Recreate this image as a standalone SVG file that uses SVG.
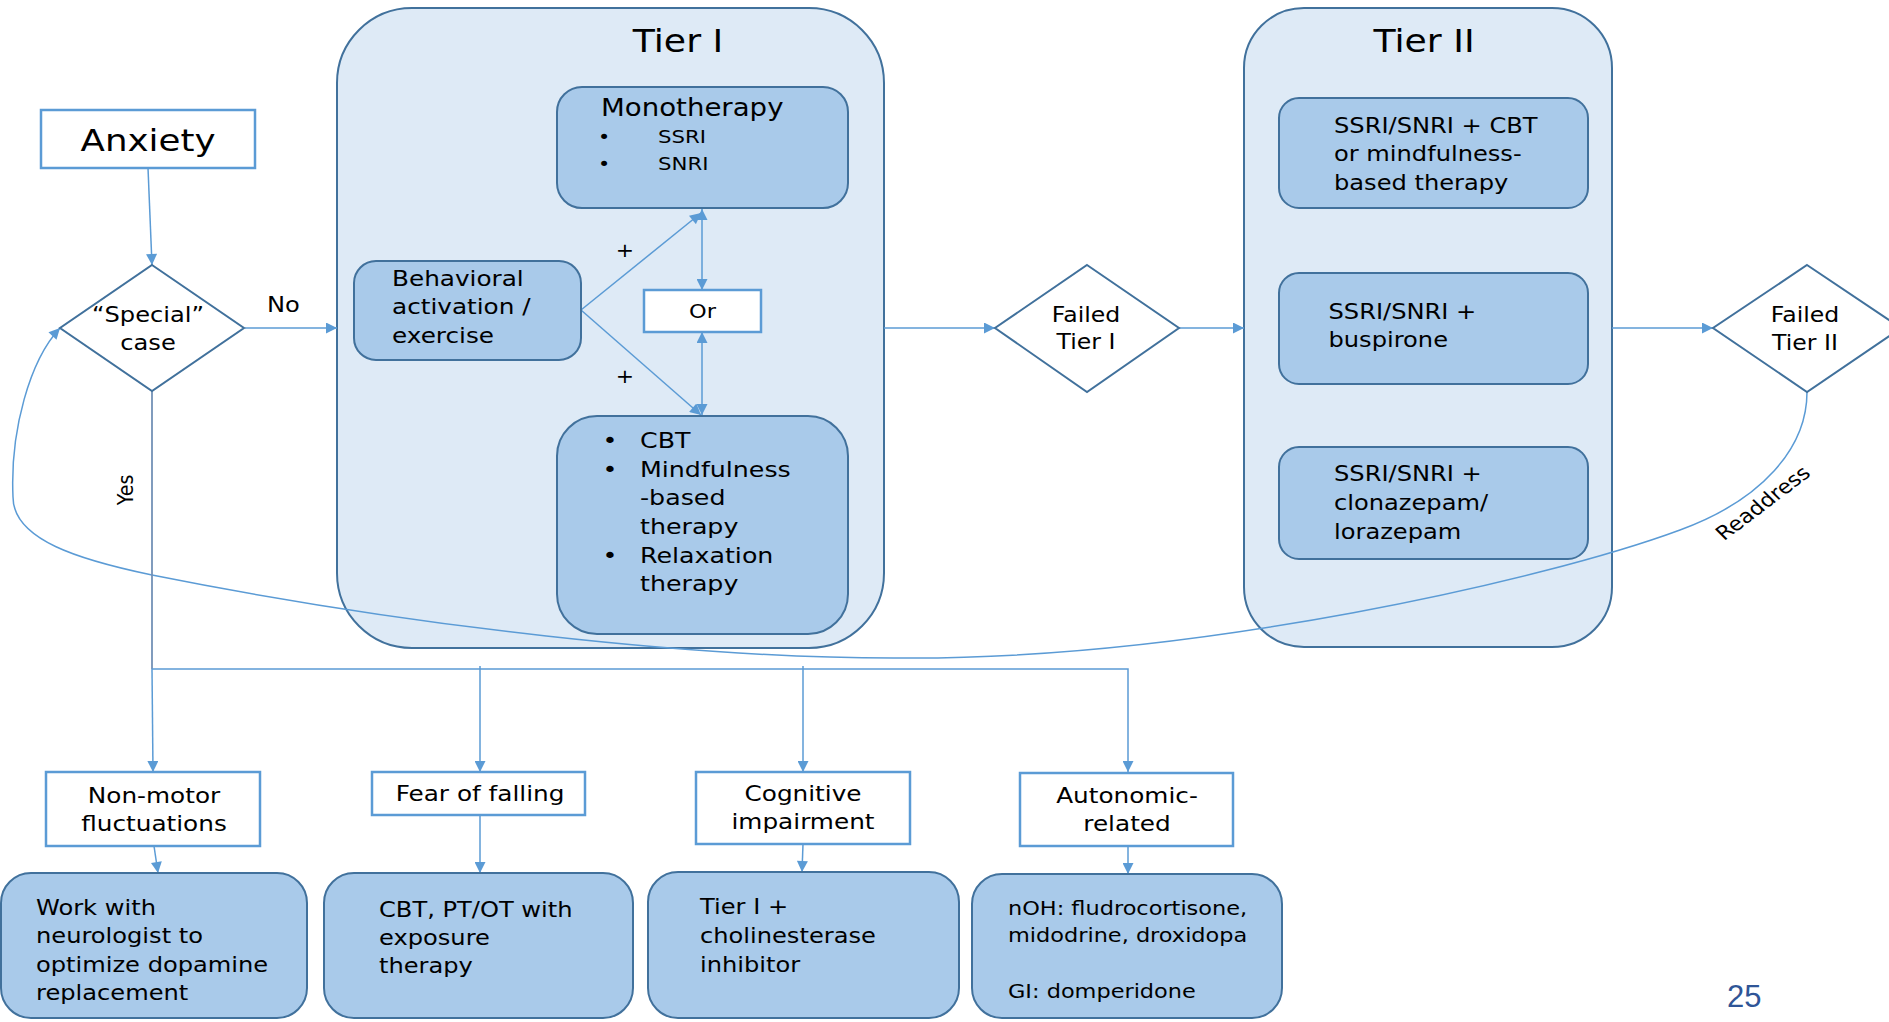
<svg xmlns="http://www.w3.org/2000/svg" width="1889" height="1022" viewBox="0 0 1889 1022">
<defs>
<style>
.t{font-family:"DejaVu Sans",Verdana,sans-serif;fill:#000}
.tier{fill:#DEEAF6;stroke:#41719C;stroke-width:2}
.box{fill:#A9CAEA;stroke:#41719C;stroke-width:2}
.wbox{fill:#fff;stroke:#5B9BD5;stroke-width:2.5}
.dia{fill:#fff;stroke:#41719C;stroke-width:2}
.ln{stroke:#5B9BD5;stroke-width:1.5;fill:none}
.yes{stroke:#7391B6;stroke-width:1.8;fill:none}
.m{text-anchor:middle}
</style>
<marker id="ah" viewBox="0 0 10 10" refX="10" refY="5" markerWidth="13" markerHeight="11" markerUnits="userSpaceOnUse" orient="auto-start-reverse"><path d="M0,0 L10,5 L0,10z" fill="#5B9BD5"/></marker>
</defs>
<rect width="1889" height="1022" fill="#fff"/>

<g id="tier1">
<rect class="tier" x="337" y="8" width="547" height="640" rx="75"/>
<text class="t m" font-size="31.5" transform="translate(678,52) scale(1.15,1)">Tier I</text>
</g>
<g id="tier2">
<rect class="tier" x="1244" y="8" width="368" height="639" rx="60"/>
<text class="t m" font-size="31.5" transform="translate(1424,52) scale(1.15,1)">Tier II</text>
</g>

<g id="connectors">
<line class="ln" x1="148" y1="168" x2="152" y2="265" marker-end="url(#ah)"/>
<line class="ln" x1="245" y1="328" x2="337" y2="328" marker-end="url(#ah)"/>
<line class="ln" x1="884" y1="328" x2="995" y2="328" marker-end="url(#ah)"/>
<line class="ln" x1="1179" y1="328" x2="1244" y2="328" marker-end="url(#ah)"/>
<line class="ln" x1="1612" y1="328" x2="1713" y2="328" marker-end="url(#ah)"/>
<line class="ln" x1="581" y1="310" x2="701" y2="213" marker-end="url(#ah)"/>
<line class="ln" x1="581" y1="310" x2="701" y2="415" marker-end="url(#ah)"/>
<line class="ln" x1="702" y1="209" x2="702" y2="290" marker-start="url(#ah)" marker-end="url(#ah)"/>
<line class="ln" x1="702" y1="332" x2="702" y2="415" marker-start="url(#ah)" marker-end="url(#ah)"/>
<path class="ln" d="M1807,392 C1807,448 1762,500 1680,530 C1545,580 1200,658 912,658 C700,660 402,625 152,575 C80,560 13,540 13,497 C10,430 30,360 60,328" marker-end="url(#ah)"/>
<line class="yes" x1="152" y1="391" x2="152" y2="669"/>
<line class="ln" x1="152" y1="669" x2="153" y2="772" marker-end="url(#ah)"/>
<polyline class="ln" points="152,669 1128,669 1128,772" marker-end="url(#ah)"/>
<line class="ln" x1="480" y1="666" x2="480" y2="772" marker-end="url(#ah)"/>
<line class="ln" x1="803" y1="666" x2="803" y2="772" marker-end="url(#ah)"/>
<line class="ln" x1="154" y1="846" x2="158" y2="873" marker-end="url(#ah)"/>
<line class="ln" x1="480" y1="815" x2="480" y2="873" marker-end="url(#ah)"/>
<line class="ln" x1="803" y1="844" x2="802" y2="872" marker-end="url(#ah)"/>
<line class="ln" x1="1128" y1="846" x2="1128" y2="874" marker-end="url(#ah)"/>
<text class="t" font-size="21" transform="translate(267,312) scale(1.15,1)">No</text>
<text class="t m" font-size="19" transform="translate(133,490) scale(1.15,1) rotate(-90)">Yes</text>
<text class="t m" font-size="19.5" transform="translate(1768,508) scale(1.15,1) rotate(-41)">Readdress</text>
<text class="t m" font-size="19" transform="translate(625,257) scale(1.15,1)">+</text>
<text class="t m" font-size="19" transform="translate(625,383) scale(1.15,1)">+</text>
</g>

<g id="anxiety">
<rect class="wbox" x="41" y="110" width="214" height="58"/>
<text class="t m" font-size="31" transform="translate(148,151) scale(1.15,1)">Anxiety</text>
</g>
<g id="special">
<polygon class="dia" points="152,265 244,328 152,391 60,328"/>
<text class="t m" font-size="21" transform="translate(148,322) scale(1.15,1)">“Special”<tspan x="0" y="28">case</tspan></text>
</g>
<g id="mono">
<rect class="box" x="557" y="87" width="291" height="121" rx="25"/>
<text class="t" font-size="24" transform="translate(601,116) scale(1.15,1)">Monotherapy</text>
<text class="t m" font-size="18" transform="translate(604,143) scale(1.15,1)">•<tspan x="0" y="27.5">•</tspan></text>
<text class="t" font-size="18.5" transform="translate(658,143) scale(1.15,1)">SSRI<tspan x="0" y="27.5">SNRI</tspan></text>
</g>
<g id="behavioral">
<rect class="box" x="354" y="261" width="227" height="99" rx="22"/>
<text class="t" font-size="21.5" transform="translate(392,286) scale(1.15,1)">Behavioral<tspan x="0" y="28.3">activation /</tspan><tspan x="0" y="56.7">exercise</tspan></text>
</g>
<g id="or">
<rect class="wbox" x="644" y="290" width="117" height="42"/>
<text class="t m" font-size="19.5" transform="translate(702.5,318) scale(1.15,1)">Or</text>
</g>
<g id="cbt">
<rect class="box" x="557" y="416" width="291" height="218" rx="40"/>
<text class="t m" font-size="22" transform="translate(610,448) scale(1.15,1)">•<tspan x="0" y="29">•</tspan><tspan x="0" y="115">•</tspan></text>
<text class="t" font-size="22" transform="translate(640,448) scale(1.15,1)">CBT<tspan x="0" y="29">Mindfulness</tspan><tspan x="0" y="57.5">-based</tspan><tspan x="0" y="86.5">therapy</tspan><tspan x="0" y="115">Relaxation</tspan><tspan x="0" y="143.5">therapy</tspan></text>
</g>
<g id="failed1">
<polygon class="dia" points="1087,265 1179,328 1087,392 995,328"/>
<text class="t m" font-size="20.5" transform="translate(1086,322) scale(1.15,1)">Failed<tspan x="0" y="27.5">Tier I</tspan></text>
</g>
<g id="t2a">
<rect class="box" x="1279" y="98" width="309" height="110" rx="20"/>
<text class="t" font-size="21" transform="translate(1334,132.6) scale(1.15,1)">SSRI/SNRI + CBT<tspan x="0" y="28.5">or mindfulness-</tspan><tspan x="0" y="57">based therapy</tspan></text>
</g>
<g id="t2b">
<rect class="box" x="1279" y="273" width="309" height="111" rx="20"/>
<text class="t" font-size="21" transform="translate(1328.5,318.6) scale(1.15,1)">SSRI/SNRI +<tspan x="0" y="28.5">buspirone</tspan></text>
</g>
<g id="t2c">
<rect class="box" x="1279" y="447" width="309" height="112" rx="20"/>
<text class="t" font-size="21" transform="translate(1334,481) scale(1.15,1)">SSRI/SNRI +<tspan x="0" y="29">clonazepam/</tspan><tspan x="0" y="57.7">lorazepam</tspan></text>
</g>
<g id="failed2">
<polygon class="dia" points="1807,265 1901,328 1807,392 1713,328"/>
<text class="t m" font-size="20.5" transform="translate(1805,322) scale(1.15,1)">Failed<tspan x="0" y="28">Tier II</tspan></text>
</g>

<g id="nonmotor">
<rect class="wbox" x="46" y="772" width="214" height="74"/>
<text class="t m" font-size="21.5" transform="translate(154,802.7) scale(1.15,1)">Non-motor<tspan x="0" y="28">fluctuations</tspan></text>
</g>
<g id="fear">
<rect class="wbox" x="372" y="772" width="213" height="43"/>
<text class="t m" font-size="21.5" transform="translate(480,801) scale(1.15,1)">Fear of falling</text>
</g>
<g id="cognitive">
<rect class="wbox" x="696" y="772" width="214" height="72"/>
<text class="t m" font-size="21.5" transform="translate(803,800.7) scale(1.15,1)">Cognitive<tspan x="0" y="28.6">impairment</tspan></text>
</g>
<g id="autonomic">
<rect class="wbox" x="1020" y="773" width="213" height="73"/>
<text class="t m" font-size="21.5" transform="translate(1127,802.7) scale(1.15,1)">Autonomic-<tspan x="0" y="28">related</tspan></text>
</g>
<g id="work">
<rect class="box" x="1" y="873" width="306" height="145" rx="30"/>
<text class="t" font-size="21" transform="translate(36,915) scale(1.15,1)">Work with<tspan x="0" y="28.3">neurologist to</tspan><tspan x="0" y="56.7">optimize dopamine</tspan><tspan x="0" y="85">replacement</tspan></text>
</g>
<g id="cbtpt">
<rect class="box" x="324" y="873" width="309" height="145" rx="30"/>
<text class="t" font-size="21" transform="translate(379,916.7) scale(1.15,1)">CBT, PT/OT with<tspan x="0" y="28.3">exposure</tspan><tspan x="0" y="56.6">therapy</tspan></text>
</g>
<g id="tier1plus">
<rect class="box" x="648" y="872" width="311" height="146" rx="30"/>
<text class="t" font-size="21" transform="translate(700,914) scale(1.15,1)">Tier I +<tspan x="0" y="28.7">cholinesterase</tspan><tspan x="0" y="57.7">inhibitor</tspan></text>
</g>
<g id="noh">
<rect class="box" x="972" y="874" width="310" height="144" rx="30"/>
<text class="t" font-size="19.5" transform="translate(1008,915) scale(1.15,1)">nOH: fludrocortisone,<tspan x="0" y="26.7">midodrine, droxidopa</tspan><tspan x="0" y="83.3">GI: domperidone</tspan></text>
</g>
<text font-family="'Liberation Sans',Arial,sans-serif" font-size="31" fill="#2F5597" x="1727" y="1007">25</text>
</svg>
